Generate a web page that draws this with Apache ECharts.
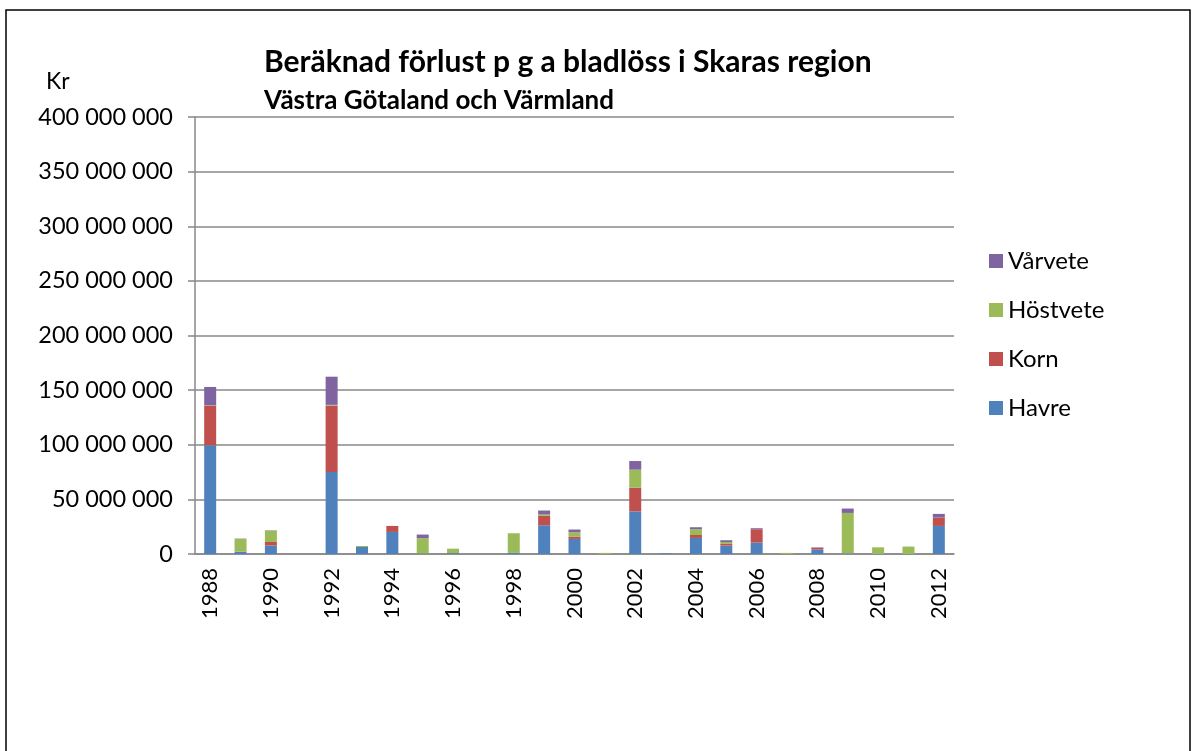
<!DOCTYPE html>
<html>
<head>
<meta charset="utf-8">
<script src="https://cdn.jsdelivr.net/npm/echarts@6/dist/echarts.min.js"></script>
<style>
  html, body { margin: 0; padding: 0; background: #fff; }
  #chart { width: 1197px; height: 751px; }
</style>
</head>
<body>
<div id="chart"></div>
<script>
// år
const years = ['1988', '1989', '1990', '1991', '1992', '1993', '1994', '1995', '1996', '1997', '1998', '1999',
    '2000', '2001', '2002', '2003', '2004', '2005', '2006', '2007', '2008', '2009', '2010', '2011', '2012'];

// förlust i kr per gröda
const havre = [99.5e6, 2e6, 7.7e6, 0, 75e6, 6.4e6, 20.2e6, 0.5e6, 0.8e6, 0, 1e6, 26.3e6,
    13.8e6, 0, 39e6, 0.5e6, 14.7e6, 7.7e6, 10.4e6, 0, 4.3e6, 0.5e6, 0, 0, 25.7e6];
const korn = [36.3e6, 0.3e6, 3.3e6, 0, 61e6, 0, 5.5e6, 0, 0, 0, 0, 8.6e6,
    2.1e6, 0, 21.7e6, 0, 2.7e6, 1.5e6, 12.3e6, 0, 1.5e6, 0, 0, 0, 7.7e6];
const hostvete = [0.3e6, 11.5e6, 10.4e6, 0, 0.5e6, 0.9e6, 0, 14e6, 4.1e6, 0, 18e6, 1.2e6,
    4e6, 1e6, 16.5e6, 0, 5.3e6, 1.8e6, 0, 1e6, 0, 37.1e6, 6.1e6, 6.8e6, 0];
const varvete = [16.8e6, 0.3e6, 0.3e6, 0, 25.8e6, 0, 0, 3.3e6, 0, 0, 0, 3.7e6,
    2.5e6, 0, 7.9e6, 0, 1.8e6, 1.6e6, 0.9e6, 0, 0.3e6, 4e6, 0, 0, 3.3e6];

const seriesNames = ['Havre', 'Korn', 'Höstvete', 'Vårvete'];
const seriesData = [havre, korn, hostvete, varvete];
const colors = ['#4F81BD', '#C0504D', '#9BBB59', '#8064A2'];

const font = 'Lato, "Open Sans", sans-serif';

function spaced(v) {
    return String(v).replace(/\B(?=(\d{3})+(?!\d))/g, ' ');
}

const chart = echarts.init(document.getElementById('chart'));

chart.setOption({
    animation: false,
    color: colors,
    textStyle: { fontFamily: font, color: '#000' },
    title: [
        {
            text: 'Beräknad förlust p g a bladlöss i Skaras region',
            left: 259, top: 42,
            textStyle: { fontFamily: font, fontSize: 30, fontWeight: 'bold', color: '#000' }
        },
        {
            text: 'Västra Götaland och Värmland',
            left: 259, top: 83,
            textStyle: { fontFamily: font, fontSize: 26, fontWeight: 'bold', color: '#000' }
        }
    ],
    graphic: [
        {
            type: 'rect',
            shape: { x: 6, y: 10, width: 1184, height: 800 },
            style: { fill: 'none', stroke: '#000', lineWidth: 1.5 }
        },
        {
            type: 'text',
            left: 46, top: 70,
            style: { text: 'Kr', font: '23px ' + font, fill: '#000' }
        }
    ],
    legend: {
        data: ['Vårvete', 'Höstvete', 'Korn', 'Havre'],
        orient: 'vertical',
        left: 984, top: 244,
        itemWidth: 14, itemHeight: 14,
        itemGap: 25,
        icon: 'rect',
        textStyle: { fontFamily: font, fontSize: 24, lineHeight: 23, color: '#000' }
    },
    grid: { left: 195, right: 243, top: 117, bottom: 197 },
    xAxis: {
        type: 'category',
        data: years,
        axisLine: { lineStyle: { color: '#888', width: 1.5 } },
        axisTick: { interval: 0, length: 7, lineStyle: { color: '#888', width: 1.5 } },
        axisLabel: {
            interval: 1, rotate: 90, margin: 14,
            fontFamily: font, fontSize: 22, color: '#000'
        }
    },
    yAxis: {
        type: 'value',
        min: 0, max: 400000000, interval: 50000000,
        axisLine: { show: true, lineStyle: { color: '#888', width: 1.5 } },
        axisTick: { show: true, length: 7, lineStyle: { color: '#888', width: 1.5 } },
        splitLine: { lineStyle: { color: '#888', width: 1.5 } },
        axisLabel: {
            margin: 22,
            fontFamily: font, fontSize: 23.5, color: '#000',
            formatter: spaced
        }
    },
    series: seriesNames.map((name, i) => ({
        name: name,
        type: 'bar',
        stack: 'total',
        barWidth: 12,
        data: seriesData[i]
    }))
});
</script>
</body>
</html>
